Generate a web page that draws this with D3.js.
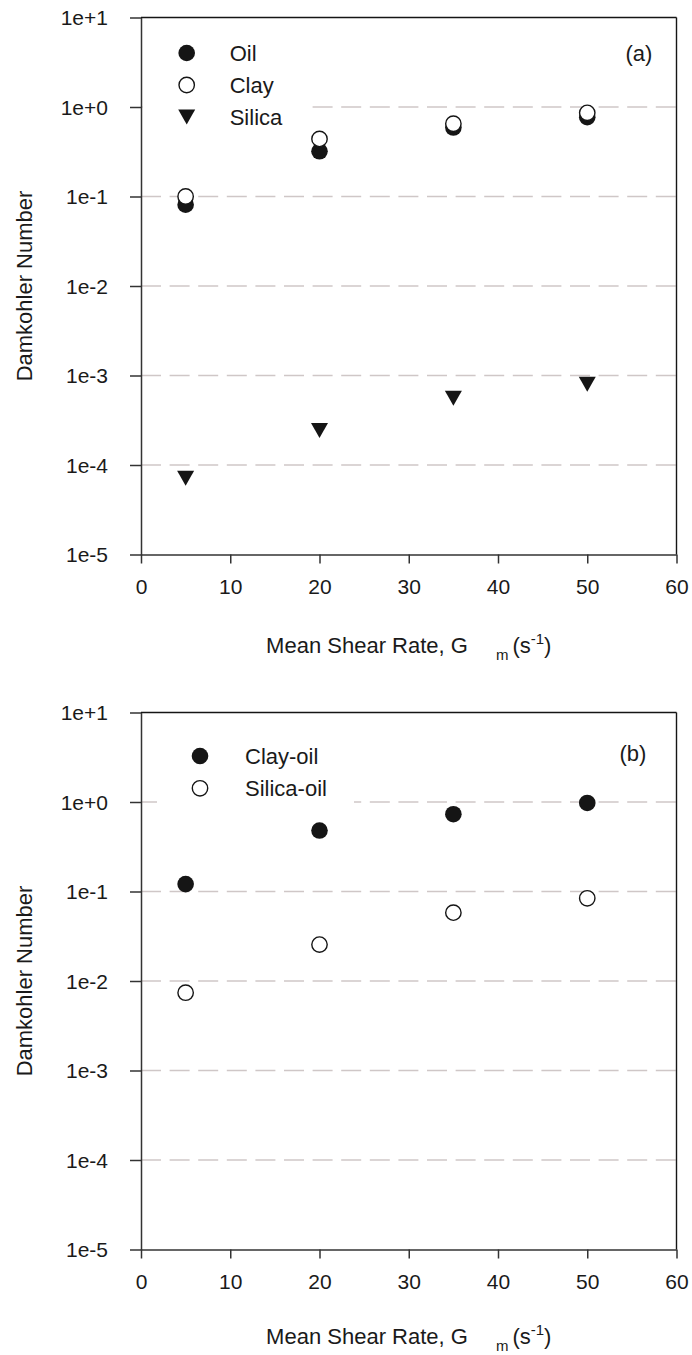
<!DOCTYPE html>
<html>
<head>
<meta charset="utf-8">
<script src="https://cdn.jsdelivr.net/npm/d3@7"></script>
<style>
  html, body { margin: 0; padding: 0; background: #fff; }
  svg { display: block; }
  text { font-family: "Liberation Sans", Arial, Helvetica, sans-serif; fill: #1a1a1a; }
</style>
</head>
<body>
<svg id="chart" width="692" height="1355"></svg>
<script>
// ---------- data ----------
const shearRate = [5, 20, 35, 50];
const xTicks = [0, 10, 20, 30, 40, 50, 60];
const yTicks = [1e-5, 1e-4, 1e-3, 1e-2, 1e-1, 1e0, 1e1];
const yTickLabels = ["1e-5", "1e-4", "1e-3", "1e-2", "1e-1", "1e+0", "1e+1"];
const gridValues = [1e-4, 1e-3, 1e-2, 1e-1, 1e0];

// panel (a)
const oilA = [0.081, 0.32, 0.59, 0.77];
const clayA = [0.100, 0.44, 0.65, 0.86];
const silicaA = [7.1e-5, 2.43e-4, 5.56e-4, 8.0e-4];
// panel (b)
const clayOilB = [0.121, 0.48, 0.73, 0.975];
const silicaOilB = [0.0074, 0.0255, 0.058, 0.084];

const seriesA = [
  { name: "Oil", values: oilA, marker: "filled" },
  { name: "Silica", values: silicaA, marker: "triangle" },
  { name: "Clay", values: clayA, marker: "open" }
];
const legendA = ["Oil", "Clay", "Silica"];
const seriesB = [
  { name: "Clay-oil", values: clayOilB, marker: "filled" },
  { name: "Silica-oil", values: silicaOilB, marker: "open" }
];
const legendB = ["Clay-oil", "Silica-oil"];

// ---------- drawing ----------
const svg = d3.select("#chart");
const ink = "#151515";
const axisColor = "#333";

function drawMarker(g, type, cx, cy) {
  if (type === "filled") {
    g.append("circle").attr("cx", cx).attr("cy", cy).attr("r", 8.3).attr("fill", ink);
  } else if (type === "open") {
    g.append("circle").attr("cx", cx).attr("cy", cy).attr("r", 7.7)
      .attr("fill", "#fff").attr("stroke", ink).attr("stroke-width", 1.4);
  } else {
    const w = 17, h = 15;
    g.append("path")
      .attr("d", `M${cx - w / 2},${cy - h / 2}L${cx + w / 2},${cy - h / 2}L${cx},${cy + h / 2}Z`)
      .attr("fill", ink);
  }
}

function drawPanel(opt) {
  const left = 141, right = 676.5;
  const top = opt.top, bottom = opt.top + 537;
  const x = d3.scaleLinear().domain([0, 60]).range([left, right]);
  const y = d3.scaleLog().domain([1e-5, 1e1]).range([bottom, top]);
  const g = svg.append("g");

  // gridlines
  g.selectAll(".grid").data(gridValues).enter().append("line")
    .attr("x1", left).attr("x2", right)
    .attr("y1", d => y(d)).attr("y2", d => y(d))
    .attr("stroke", "#cfc7c7").attr("stroke-width", 1.5)
    .attr("stroke-dasharray", "20,8.6");

  // legend background (hides gridline behind legend)
  g.append("rect").attr("x", opt.legendBox[0]).attr("y", opt.legendBox[1])
    .attr("width", opt.legendBox[2]).attr("height", opt.legendBox[3]).attr("fill", "#fff");

  // frame: top and right
  g.append("line").attr("x1", left).attr("x2", right).attr("y1", top).attr("y2", top)
    .attr("stroke", ink).attr("stroke-width", 1.4);
  g.append("line").attr("x1", right).attr("x2", right).attr("y1", top).attr("y2", bottom)
    .attr("stroke", ink).attr("stroke-width", 1.4);

  // y axis
  const yAxis = d3.axisLeft(y).tickValues(yTicks)
    .tickFormat((d, i) => yTickLabels[yTicks.indexOf(d)])
    .tickSize(11).tickSizeOuter(0).tickPadding(22);
  const ya = g.append("g").attr("transform", `translate(${left},0)`).call(yAxis);
  ya.select(".domain").attr("stroke", axisColor).attr("stroke-width", 1.5);
  ya.selectAll(".tick line").attr("stroke", axisColor).attr("stroke-width", 1.5);
  ya.selectAll(".tick text").attr("font-size", 21).attr("fill", "#1a1a1a")
    .attr("font-family", "Liberation Sans, Arial, sans-serif").attr("dy", "0.35em");

  // x axis
  const xAxis = d3.axisBottom(x).tickValues(xTicks).tickFormat(d3.format("d"))
    .tickSize(9).tickSizeOuter(0).tickPadding(16);
  const xa = g.append("g").attr("transform", `translate(0,${bottom})`).call(xAxis);
  xa.select(".domain").attr("stroke", axisColor).attr("stroke-width", 1.5);
  xa.selectAll(".tick line").attr("stroke", axisColor).attr("stroke-width", 1.5);
  xa.selectAll(".tick text").attr("font-size", 21).attr("fill", "#1a1a1a")
    .attr("font-family", "Liberation Sans, Arial, sans-serif");

  // y label
  g.append("text")
    .attr("transform", `translate(32,${(top + bottom) / 2}) rotate(-90)`)
    .attr("text-anchor", "middle").attr("font-size", 22)
    .text("Damkohler Number");

  // x label with subscript and superscript
  const xl = g.append("text").attr("x", (left + right) / 2).attr("y", bottom + opt.xLabelDy)
    .attr("text-anchor", "middle").attr("font-size", 22);
  xl.append("tspan").text("Mean Shear Rate, G");
  xl.append("tspan").attr("dx", 28).attr("dy", 7).attr("font-size", 15).text("m");
  xl.append("tspan").attr("dx", 4).attr("dy", -7).text("(s");
  xl.append("tspan").attr("dy", -9).attr("font-size", 15).text("-1");
  xl.append("tspan").attr("dy", 9).text(")");

  // data markers
  opt.series.forEach(s => {
    s.values.forEach((v, i) => drawMarker(g, s.marker, x(shearRate[i]), y(v)));
  });

  // legend
  opt.legend.forEach((name, i) => {
    const s = opt.series.find(d => d.name === name);
    const ly = top + opt.legendY0 + i * opt.legendDy;
    drawMarker(g, s.marker, opt.legendX, ly);
    g.append("text").attr("x", opt.legendX + opt.legendTextDx).attr("y", ly)
      .attr("dy", "0.36em").attr("font-size", 22).text(name);
  });

  // panel tag
  g.append("text").attr("x", opt.tagX).attr("y", top + opt.tagDy).attr("dy", "0.36em")
    .attr("text-anchor", "middle").attr("font-size", 22).text(opt.tag);
}

drawPanel({
  top: 17.5, series: seriesA, legend: legendA,
  legendX: 186.7, legendY0: 35.5, legendDy: 32, legendTextDx: 43,
  legendBox: [142.5, 36, 165, 95],
  tag: "(a)", tagX: 639, tagDy: 35.5, xLabelDy: 98
});
drawPanel({
  top: 712.5, series: seriesB, legend: legendB,
  legendX: 200, legendY0: 43.5, legendDy: 32.3, legendTextDx: 45,
  legendBox: [157, 735, 197, 74],
  tag: "(b)", tagX: 633, tagDy: 40.5, xLabelDy: 94
});
</script>
</body>
</html>
